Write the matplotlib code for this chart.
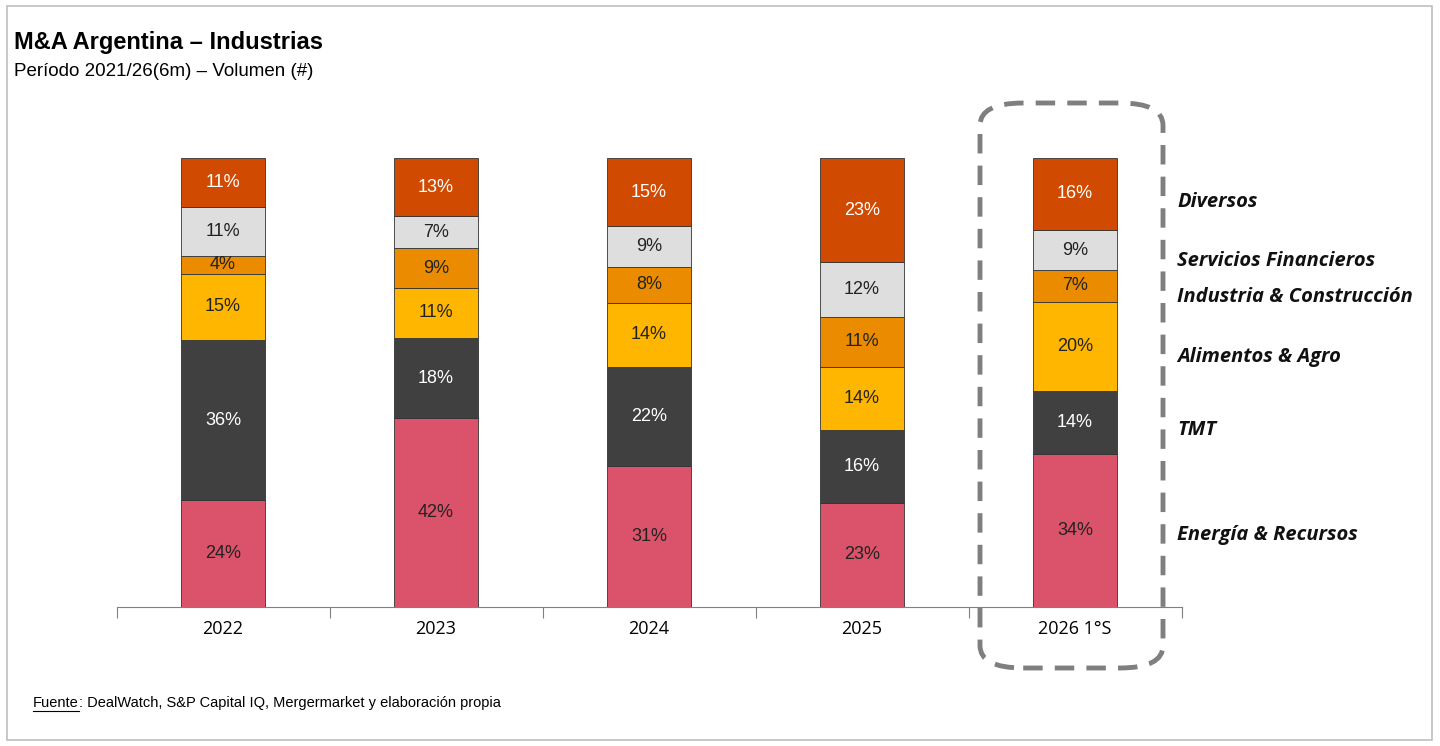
import matplotlib
matplotlib.use("Agg")
import matplotlib.pyplot as plt
from matplotlib.patches import FancyBboxPatch, Rectangle
import numpy as np

years = ["2022", "2023", "2024", "2025", "2026 1°S"]
sectors = ["Energía & Recursos", "TMT", "Alimentos & Agro", "Industria & Construcción",
           "Servicios Financieros", "Diversos"]
values = [
    [24, 42, 31, 23, 34],
    [36, 18, 22, 16, 14],
    [15, 11, 14, 14, 20],
    [4, 9, 8, 11, 7],
    [11, 7, 9, 12, 9],
    [11, 13, 15, 23, 16],
]
colors = ["#DB536A", "#404041", "#FFB600", "#EB8C00", "#DEDEDE", "#D04A02"]
txtcol = ["#222222", "white", "#222222", "#222222", "#222222", "white"]
legend_y = [535, 430, 357, 297, 261, 202]

W, H = 1440, 746
fig = plt.figure(figsize=(W/100, H/100), dpi=100)
fig.patches.append(Rectangle((7/W, 6/H), 1425/W, 734/H, transform=fig.transFigure,
                             fill=False, ec="#BFBFBF", lw=1.2))
ax = fig.add_axes([116.5/W, (H-607)/H, 1065/W, 449/H])
vals = np.array(values, dtype=float)
norm = vals / vals.sum(axis=0)
x = np.arange(len(years))
bottom = np.zeros(len(years))
for i in range(len(sectors)):
    ax.bar(x, norm[i], bottom=bottom, width=0.394, color=colors[i], edgecolor="#333333", lw=0.6)
    for j in range(len(years)):
        ax.text(x[j], bottom[j] + norm[i][j]/2, f"{values[i][j]}%", ha="center", va="center",
                fontsize=13, color=txtcol[i], family="Liberation Sans")
    bottom += norm[i]
ax.set_xlim(-0.5, 4.5)
ax.set_ylim(0, 1)
for s in ["top", "right", "left"]:
    ax.spines[s].set_visible(False)
ax.spines["bottom"].set_color("#808080")
ax.set_yticks([])
ax.set_xticks(np.arange(-0.5, 4.6, 1), minor=False)
ax.set_xticklabels([])
ax.tick_params(axis="x", length=8, color="#808080", direction="out")
for j, y in enumerate(years):
    ax.text(x[j], -0.05, y, ha="center", va="center", fontsize=13, family="Open Sans")

for s, yy in zip(sectors, legend_y):
    fig.text(1177/W, 1 - yy/H, s, ha="left", va="center", fontsize=14.5,
             fontweight="bold", fontstyle="italic", family="Open Sans", color="#111111")

fig.patches.append(FancyBboxPatch((980/W, (H-668)/H), 183/W, 565/H,
                                  boxstyle="round,pad=0,rounding_size=0.03",
                                  transform=fig.transFigure, fill=False, ec="#7F7F7F",
                                  lw=3.5, ls=(0, (4, 2.5))))

fig.text(14/W, 1 - 42/H, "M&A Argentina – Industrias", fontsize=17, fontweight="bold",
         va="center", family="Liberation Sans")
fig.text(14/W, 1 - 72/H, "Período 2021/26(6m) – Volumen (#)", fontsize=13.5,
         va="center", family="Liberation Sans")
t = fig.text(33/W, 1 - 703/H, "Fuente", fontsize=10.5, va="center", family="Liberation Sans")
fig.canvas.draw()
bb = t.get_window_extent()
fig.text(bb.x1/W, 1 - 703/H, ": DealWatch, S&P Capital IQ, Mergermarket y elaboración propia",
         fontsize=10.5, va="center", family="Liberation Sans")
fig.lines.append(plt.Line2D([bb.x0/W, bb.x1/W], [(bb.y0-1)/H]*2, transform=fig.transFigure,
                            color="black", lw=0.8))
fig.savefig("out.png", dpi=100)
